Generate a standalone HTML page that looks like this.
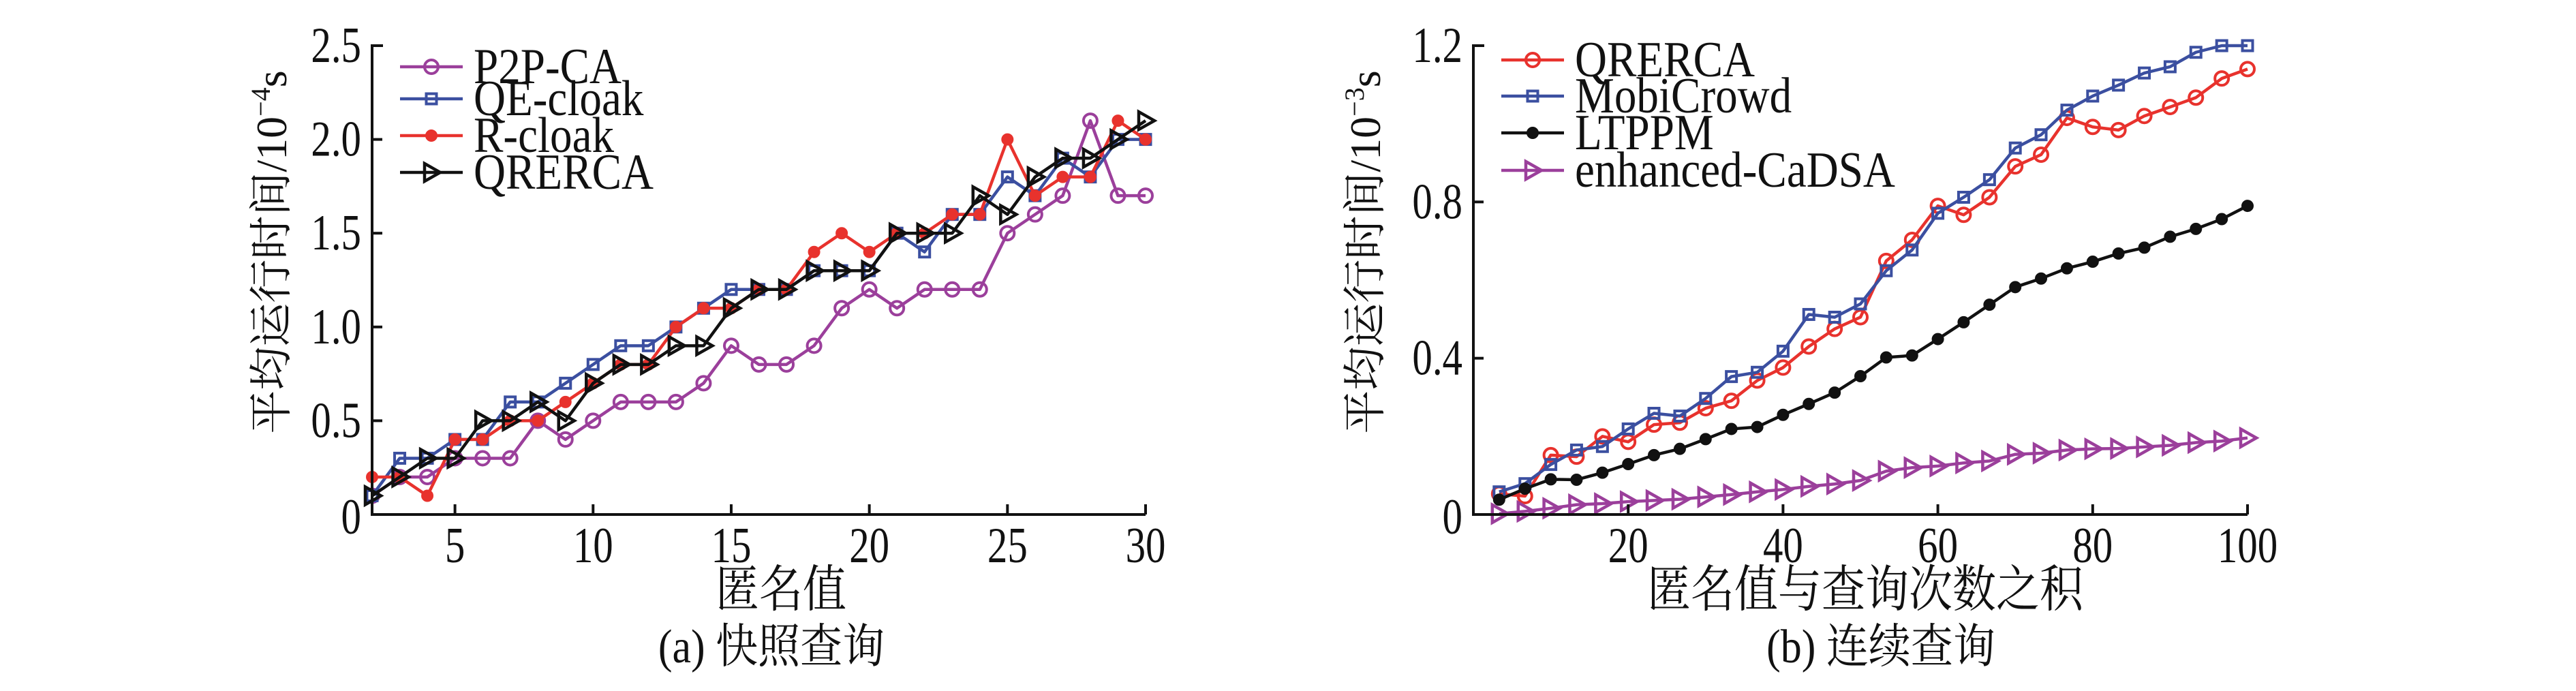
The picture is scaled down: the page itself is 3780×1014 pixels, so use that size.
<!DOCTYPE html>
<html><head><meta charset="utf-8"><style>
html,body{margin:0;padding:0;background:#fff;}
svg{display:block;}
text{font-family:"Liberation Serif","Noto Serif CJK SC","Noto Sans CJK SC",serif;fill:#111;}
</style></head><body>
<svg id="fig" width="3780" height="1014" viewBox="0 0 3780 1014" xmlns="http://www.w3.org/2000/svg"></svg>
<script>
// Chart (a) data
const aX = [2,3,4,5,6,7,8,9,10,11,12,13,14,15,16,17,18,19,20,21,22,23,24,25,26,27,28,29,30];
const aP2P = [0.1,0.2,0.2,0.3,0.3,0.3,0.5,0.4,0.5,0.6,0.6,0.6,0.7,0.9,0.8,0.8,0.9,1.1,1.2,1.1,1.2,1.2,1.2,1.5,1.6,1.7,2.1,1.7,1.7];
const aQE = [0.1,0.3,0.3,0.4,0.4,0.6,0.6,0.7,0.8,0.9,0.9,1.0,1.1,1.2,1.2,1.2,1.3,1.3,1.3,1.5,1.4,1.6,1.6,1.8,1.7,1.9,1.8,2.0,2.0];
const aR = [0.2,0.2,0.1,0.4,0.4,0.5,0.5,0.6,0.7,0.8,0.8,1.0,1.1,1.1,1.2,1.2,1.4,1.5,1.4,1.5,1.5,1.6,1.6,2.0,1.7,1.8,1.8,2.1,2.0];
const aQR = [0.1,0.2,0.3,0.3,0.5,0.5,0.6,0.5,0.7,0.8,0.8,0.9,0.9,1.1,1.2,1.2,1.3,1.3,1.3,1.5,1.5,1.5,1.7,1.6,1.8,1.9,1.9,2.0,2.1];
const aXTicks = [5,10,15,20,25,30];
const aYTicks = [0,0.5,1.0,1.5,2.0,2.5];
const aYTickLabels = ["0","0.5","1.0","1.5","2.0","2.5"];
// Chart (b) data
const bX = [3.33,6.67,10,13.33,16.67,20,23.33,26.67,30,33.33,36.67,40,43.33,46.67,50,53.33,56.67,60,63.33,66.67,70,73.33,76.67,80,83.33,86.67,90,93.33,96.67,100];
const bQR = [0.053,0.047,0.152,0.148,0.2,0.186,0.23,0.235,0.272,0.291,0.343,0.376,0.43,0.475,0.505,0.649,0.703,0.79,0.767,0.812,0.891,0.921,1.015,0.992,0.984,1.02,1.043,1.067,1.116,1.14];
const bMobi = [0.058,0.079,0.128,0.165,0.174,0.219,0.259,0.252,0.297,0.353,0.364,0.418,0.512,0.505,0.539,0.624,0.677,0.771,0.812,0.857,0.938,0.972,1.035,1.071,1.099,1.13,1.146,1.183,1.2,1.2];
const bLT = [0.038,0.066,0.09,0.089,0.107,0.129,0.152,0.168,0.193,0.219,0.224,0.255,0.283,0.312,0.354,0.402,0.407,0.449,0.492,0.537,0.582,0.604,0.63,0.647,0.668,0.683,0.711,0.731,0.756,0.79];
const bEn = [0.002,0.008,0.016,0.025,0.028,0.033,0.036,0.039,0.045,0.051,0.058,0.064,0.072,0.078,0.087,0.111,0.12,0.124,0.132,0.137,0.154,0.157,0.165,0.168,0.169,0.173,0.177,0.184,0.188,0.196];
const bXTicks = [20,40,60,80,100];
const bYTicks = [0,0.4,0.8,1.2];
const bYTickLabels = ["0","0.4","0.8","1.2"];

const NS="http://www.w3.org/2000/svg";
const svg=document.getElementById('fig');
function mk(tag,attrs,parent){const e=document.createElementNS(NS,tag);for(const k in attrs)e.setAttribute(k,attrs[k]);(parent||svg).appendChild(e);return e;}
const PURPLE="#9b3f9b",BLUE="#3b4fa0",RED="#e8322d",BLACK="#111";

function marker(g,type,x,y,color){
  let m;
  if(type==='circle'){m=mk('circle',{cx:x,cy:y,r:10,fill:'none',stroke:color,'stroke-width':4},g);}
  else if(type==='square'){m=mk('rect',{x:x-7.5,y:y-7.5,width:15,height:15,fill:'none',stroke:color,'stroke-width':4},g);}
  else if(type==='star'){m=mk('circle',{cx:x,cy:y,r:8,fill:color,stroke:color,'stroke-width':2},g);}
  else {m=mk('polygon',{points:`${x-10},${y-13} ${x+13},${y} ${x-10},${y+13}`,fill:'none',stroke:color,'stroke-width':4.5},g);}
  
  
}
function stext(parent,x,y,size,anchor,scx){
  return mk('text',{x:0,y:0,'font-size':size,'text-anchor':anchor,transform:`translate(${x},${y}) scale(${scx},1.2)`},parent);
}

function chart(cfg){
  const g=mk('g',{});
  
  
  const sx=v=>cfg.x0+(v-cfg.xmin)/(cfg.xmax-cfg.xmin)*(cfg.x1-cfg.x0);
  const sy=v=>cfg.y0-(v/cfg.ymax)*(cfg.y0-cfg.y1);
  cfg.series.forEach(s=>{
    const sg=mk('g',{},g);
    
    
    const pts=s.vals.map((v,i)=>sx(cfg.xs[i])+','+sy(v)).join(' ');
    const pl=mk('polyline',{points:pts,fill:'none',stroke:s.color,'stroke-width':4.5,'stroke-linejoin':'round'},sg);
    
    
    s.vals.forEach((v,i)=>marker(sg,s.marker,sx(cfg.xs[i]),sy(v),s.color));
  });
  const ax=mk('path',{d:`M${cfg.x0},${cfg.y1-2} L${cfg.x0},${cfg.y0} L${cfg.x1},${cfg.y0}`,fill:'none',stroke:BLACK,'stroke-width':4},g);
  
  
  mk('line',{x1:cfg.x0,y1:cfg.y1,x2:cfg.x0+16,y2:cfg.y1,stroke:BLACK,'stroke-width':4},g);
  cfg.xticks.forEach(t=>{
    const x=sx(t);
    mk('line',{x1:x,y1:cfg.y0,x2:x,y2:cfg.y0-15,stroke:BLACK,'stroke-width':4},g);
    const tx=stext(g,x,cfg.y0+70,62,'middle',0.95);
    tx.textContent=t;
    
    
  });
  cfg.yticks.forEach((t,i)=>{
    const y=sy(t);
    if(i>0&&i<cfg.yticks.length-1)mk('line',{x1:cfg.x0,y1:y,x2:cfg.x0+15,y2:y,stroke:BLACK,'stroke-width':4},g);
    const tx=stext(g,cfg.x0-16,y+(i===0?28:24),62,'end',0.95);
    tx.textContent=cfg.ylabels[i];
    
    
  });
  const yt=mk('text',{x:0,y:0,'font-size':64,'text-anchor':'middle',transform:`translate(${cfg.ytx},${cfg.yty}) rotate(-90)`},g);
  
  
  yt.innerHTML=`平均运行时间/10<tspan font-size="40" dy="-24">−${cfg.exp}</tspan><tspan dy="24">s</tspan>`;
  const xt=mk('text',{x:0,y:0,'font-size':64,'text-anchor':'middle',transform:`translate(${cfg.xtx},890) scale(1,1.15)`},g);
  xt.textContent=cfg.xtitle;
  
  
  const cap=mk('text',{x:0,y:0,'font-size':62,'text-anchor':'middle',transform:`translate(${cfg.capx},972) scale(1,1.12)`},g);
  cap.textContent=cfg.caption;
  
  
  const lg=mk('g',{},g);
  
  
  cfg.series.forEach((s,i)=>{
    const y=cfg.legY[i];
    const e=mk('g',{},lg);
    
    
    mk('line',{x1:cfg.legX,y1:y,x2:cfg.legX+92,y2:y,stroke:s.color,'stroke-width':4.5},e);
    marker(e,s.marker,cfg.legX+46,y,s.color);
    const t=stext(e,cfg.legX+108,y+24,62,'start',1.05);
    t.textContent=s.label;
  });
}

chart({name:'chart-a-snapshot-query',x0:546,x1:1681,xmin:2,xmax:30,y0:755,y1:67,ymax:2.5,xs:aX,
  xticks:aXTicks,yticks:aYTicks,ylabels:aYTickLabels,ytx:420,yty:370,exp:4,
  xtitle:'匿名值',xtx:1146,caption:'(a)  快照查询',capx:1132,legX:587,legY:[98,145,199,253],
  series:[{key:'p2p-ca',label:'P2P-CA',vals:aP2P,color:PURPLE,marker:'circle'},
          {key:'qe-cloak',label:'QE-cloak',vals:aQE,color:BLUE,marker:'square'},
          {key:'r-cloak',label:'R-cloak',vals:aR,color:RED,marker:'star'},
          {key:'qrerca',label:'QRERCA',vals:aQR,color:BLACK,marker:'tri'}]});

chart({name:'chart-b-continuous-query',x0:2162,x1:3298,xmin:0,xmax:100,y0:755,y1:67,ymax:1.2,xs:bX,
  xticks:bXTicks,yticks:bYTicks,ylabels:bYTickLabels,ytx:2025,yty:370,exp:3,
  xtitle:'匿名值与查询次数之积',xtx:2737,caption:'(b)  连续查询',capx:2760,legX:2203,legY:[88,141,195,250],
  series:[{key:'qrerca',label:'QRERCA',vals:bQR,color:RED,marker:'circle'},
          {key:'mobicrowd',label:'MobiCrowd',vals:bMobi,color:BLUE,marker:'square'},
          {key:'ltppm',label:'LTPPM',vals:bLT,color:BLACK,marker:'star'},
          {key:'enhanced-cadsa',label:'enhanced-CaDSA',vals:bEn,color:PURPLE,marker:'tri'}]});
</script>
</body></html>
